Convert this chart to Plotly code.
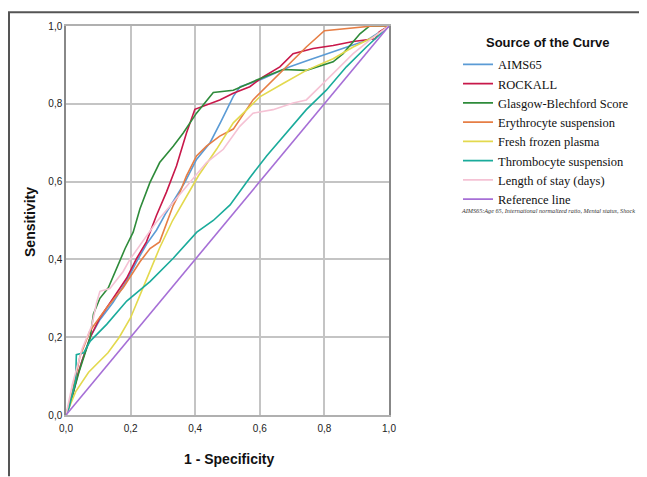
import plotly.graph_objects as go

# ---- data ----
aims65_x = [0, 0.02, 0.035, 0.05, 0.075, 0.105, 0.146, 0.188, 0.219, 0.25, 0.28, 0.31, 0.34, 0.368, 0.404, 0.446, 0.48, 0.518, 0.539, 0.6, 0.65, 0.693, 0.75, 0.807, 0.87, 0.931, 0.972, 1]
aims65_y = [0, 0.05, 0.1, 0.14, 0.2, 0.245, 0.29, 0.345, 0.395, 0.44, 0.475, 0.52, 0.56, 0.598, 0.657, 0.70, 0.755, 0.819, 0.844, 0.861, 0.88, 0.895, 0.912, 0.929, 0.946, 0.963, 0.985, 1]

rockall_x = [0, 0.02, 0.035, 0.05, 0.075, 0.105, 0.146, 0.188, 0.219, 0.249, 0.28, 0.311, 0.342, 0.373, 0.399, 0.435, 0.476, 0.518, 0.569, 0.61, 0.662, 0.703, 0.765, 0.827, 0.889, 0.957, 0.97, 1]
rockall_y = [0, 0.05, 0.1, 0.14, 0.2, 0.25, 0.30, 0.352, 0.403, 0.445, 0.513, 0.573, 0.64, 0.725, 0.786, 0.797, 0.81, 0.827, 0.844, 0.869, 0.895, 0.929, 0.942, 0.95, 0.96, 0.967, 0.985, 1]

gbs_x = [0, 0.02, 0.04, 0.06, 0.075, 0.085, 0.105, 0.131, 0.152, 0.183, 0.208, 0.229, 0.26, 0.29, 0.332, 0.363, 0.404, 0.456, 0.518, 0.59, 0.672, 0.744, 0.827, 0.858, 0.91, 0.94, 1]
gbs_y = [0, 0.05, 0.11, 0.16, 0.2, 0.26, 0.30, 0.327, 0.369, 0.428, 0.47, 0.53, 0.598, 0.649, 0.691, 0.725, 0.776, 0.829, 0.835, 0.861, 0.888, 0.886, 0.908, 0.929, 0.98, 1, 1]

ery_x = [0, 0.02, 0.043, 0.074, 0.126, 0.177, 0.229, 0.26, 0.29, 0.332, 0.353, 0.373, 0.404, 0.435, 0.476, 0.518, 0.579, 0.631, 0.693, 0.744, 0.8, 0.878, 0.95, 1]
ery_y = [0, 0.06, 0.15, 0.216, 0.276, 0.327, 0.394, 0.428, 0.445, 0.539, 0.573, 0.615, 0.666, 0.691, 0.717, 0.735, 0.81, 0.852, 0.903, 0.946, 0.988, 0.995, 1, 1]

ffp_x = [0, 0.03, 0.07, 0.13, 0.165, 0.2, 0.23, 0.26, 0.29, 0.33, 0.37, 0.41, 0.466, 0.518, 0.56, 0.6, 0.672, 0.744, 0.827, 0.889, 0.951, 1]
ffp_y = [0, 0.06, 0.11, 0.16, 0.2, 0.25, 0.31, 0.37, 0.43, 0.5, 0.556, 0.615, 0.683, 0.751, 0.785, 0.818, 0.852, 0.886, 0.916, 0.946, 0.971, 1]

thr_x = [0, 0.01, 0.03, 0.032, 0.055, 0.075, 0.126, 0.188, 0.26, 0.332, 0.405, 0.456, 0.508, 0.569, 0.621, 0.682, 0.744, 0.806, 0.868, 0.93, 1]
thr_y = [0, 0.02, 0.09, 0.155, 0.16, 0.19, 0.233, 0.293, 0.343, 0.403, 0.47, 0.50, 0.54, 0.61, 0.666, 0.725, 0.785, 0.835, 0.895, 0.946, 1]

los_x = [0, 0.02, 0.05, 0.08, 0.095, 0.105, 0.136, 0.177, 0.198, 0.229, 0.28, 0.332, 0.383, 0.435, 0.487, 0.538, 0.579, 0.641, 0.703, 0.744, 0.786, 0.827, 0.889, 0.951, 1]
los_y = [0, 0.08, 0.17, 0.23, 0.29, 0.318, 0.325, 0.369, 0.4, 0.437, 0.496, 0.547, 0.598, 0.649, 0.683, 0.742, 0.776, 0.785, 0.802, 0.81, 0.844, 0.878, 0.929, 0.971, 1]

ref_x = [0, 0.2, 0.4, 0.6, 0.8, 1]
ref_y = [0, 0.2, 0.4, 0.6, 0.8, 1]

series_names = ["AIMS65", "ROCKALL", "Glasgow-Blechford Score", "Erythrocyte suspension",
                "Fresh frozen plasma", "Thrombocyte suspension", "Length of stay (days)", "Reference line"]
series_x = [aims65_x, rockall_x, gbs_x, ery_x, ffp_x, thr_x, los_x, ref_x]
series_y = [aims65_y, rockall_y, gbs_y, ery_y, ffp_y, thr_y, los_y, ref_y]
series_colors = ["#5b9bd5", "#c8184a", "#2e8b3a", "#e67e45", "#e3d94e", "#1aab9b", "#f5c2d4", "#a66fd6"]

tick_vals = [0, 0.2, 0.4, 0.6, 0.8, 1.0]
tick_text = ["0,0", "0,2", "0,4", "0,6", "0,8", "1,0"]

fig = go.Figure()
for i in range(8):
    fig.add_trace(go.Scatter(
        x=series_x[i], y=series_y[i], mode="lines", name=series_names[i],
        line=dict(color=series_colors[i], width=1.6), legendrank=i + 1,
    ))

# page body has an 8px margin, so figure pixel = screen pixel - 8
OFF = 8
W, H = 647 - OFF, 477 - OFF
L, R, T, B = 66 - OFF, 389 - OFF, 22 - OFF, 415 - OFF
pw, ph = R - L, B - T

def px(xs):
    return (xs - OFF - L) / pw

def py(ys):
    return (B - (ys - OFF)) / ph

fig.update_layout(
    width=W, height=H,
    margin=dict(l=L, r=W - R, t=T, b=H - B),
    paper_bgcolor="white", plot_bgcolor="white",
    showlegend=True,
    legend=dict(x=px(458), y=py(46), xanchor="left", yanchor="top",
                font=dict(family="Liberation Serif", size=12.5, color="#111"),
                itemwidth=30, bgcolor="rgba(0,0,0,0)", tracegroupgap=0),
    xaxis=dict(range=[0, 1], tickvals=tick_vals, ticktext=tick_text,
               showgrid=True, gridcolor="#c4c4c4", gridwidth=1.5,
               showline=True, linecolor="#b0b0b0", linewidth=1.5, mirror=True,
               zeroline=False, ticks="", ticklen=0, ticklabelstandoff=3,
               tickfont=dict(family="Liberation Sans", size=10, color="#222")),
    yaxis=dict(range=[0, 1], tickvals=tick_vals, ticktext=tick_text,
               showgrid=True, gridcolor="#c4c4c4", gridwidth=1.5,
               showline=True, linecolor="#888888", linewidth=1.5, mirror=True,
               zeroline=False, ticks="", ticklen=0,
               tickfont=dict(family="Liberation Sans", size=10, color="#222")),
    annotations=[
        dict(text="<b>Sensitivity</b>", xref="paper", yref="paper", x=px(30), y=py(220),
             xanchor="center", yanchor="middle",
             textangle=-90, showarrow=False, font=dict(family="Liberation Sans", size=14, color="#111")),
        dict(text="<b>1 - Specificity</b>", xref="paper", yref="paper", x=px(229), y=py(459),
             xanchor="center", yanchor="middle",
             showarrow=False, font=dict(family="Liberation Sans", size=14, color="#111")),
        dict(text="<b>Source of the Curve</b>", xref="paper", yref="paper", x=px(548), y=py(39),
             xanchor="center", yanchor="middle",
             showarrow=False, font=dict(family="Liberation Sans", size=13, color="#111")),
        dict(text="<i>AIMS65:Age 65, International normalized ratio, Mental status, Shock</i>",
             xref="paper", yref="paper", x=px(548), y=py(208), xanchor="center", yanchor="middle",
             showarrow=False, font=dict(family="Liberation Serif", size=6.2, color="#333")),
    ],
    shapes=[
        dict(type="line", xref="paper", yref="paper", x0=px(8), x1=px(647), y0=py(8), y1=py(8),
             line=dict(color="#555555", width=2)),
        dict(type="line", xref="paper", yref="paper", x0=px(9), x1=px(9), y0=py(8), y1=py(477),
             line=dict(color="#555555", width=2)),
    ],
)

fig.write_html("out.html")
